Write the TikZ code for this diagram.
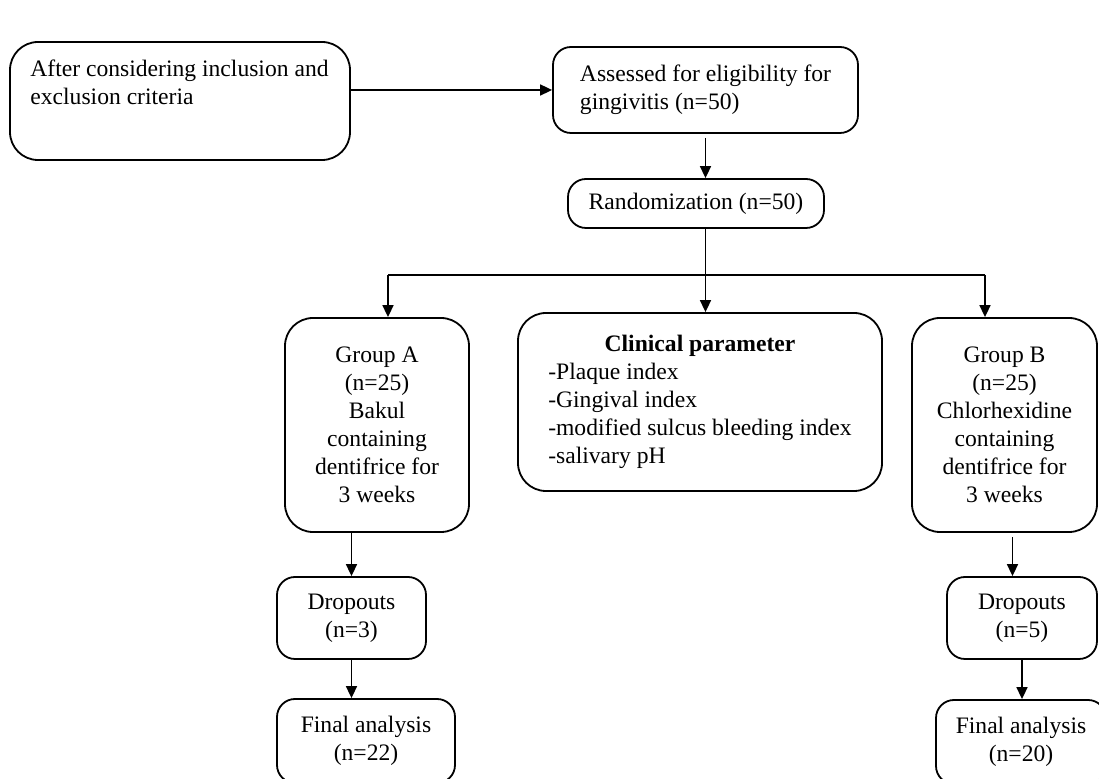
\documentclass[tikz,border=0pt]{standalone}
\usepackage{fontspec}
\setmainfont{Liberation Serif}
\usetikzlibrary{arrows.meta,positioning,calc}

\begin{document}
\begin{tikzpicture}[x=0.5pt,y=-0.5pt,
 font=\fontsize{11.8}{14}\selectfont,
 n/.style={draw,line width=0.9pt,rounded corners=9pt,align=center,inner sep=0pt},
 big/.style={n,rounded corners=14pt},
 t/.style={inner sep=0pt,align=left},
 a/.style={line width=0.85pt,-{Triangle[length=6pt,width=5.5pt]}}
]
\clip (0,0) rectangle (1099,779);
% top row
\node[big,minimum width=170pt,minimum height=59pt] (crit) at (180,101) {};
\node[t,anchor=north west] (crittxt) at (30,59) {After considering inclusion and\\exclusion criteria};
\node[n,align=left,minimum width=152.5pt,minimum height=43pt] (assess) at (705.5,90) {Assessed for eligibility for\\gingivitis (n=50)};
\node[n,minimum width=128pt,minimum height=24.5pt] (rand) at (696,203.5) {Randomization (n=50)};
% middle row
\node[big,minimum width=92pt,minimum height=107pt] (grpA) at (377,425) {Group A\\(n=25)\\Bakul\\containing\\dentifrice for\\3 weeks};
\node[big,minimum width=182pt,minimum height=89pt] (clin) at (700,402)
 {\begin{tabular}{@{}l@{}}\multicolumn{1}{@{}c@{}}{\textbf{Clinical parameter}}\\-Plaque index\\-Gingival index\\-modified sulcus bleeding index\\-salivary pH\end{tabular}};
\node[big,minimum width=92.5pt,minimum height=107pt] (grpB) at (1004.5,425) {Group B\\(n=25)\\Chlorhexidine\\containing\\dentifrice for\\3 weeks};
% bottom rows
\node[n,minimum width=74.5pt,minimum height=41pt] (dropA) at (351.5,618) {Dropouts\\(n=3)};
\node[n,minimum width=89pt,minimum height=42pt] (finA) at (366,741) {Final analysis\\(n=22)};
\node[n,minimum width=75pt,minimum height=41pt] (dropB) at (1022,618) {Dropouts\\(n=5)};
\node[n,minimum width=85pt,minimum height=42pt] (finB) at (1021,742) {Final analysis\\(n=20)};
\coordinate (brL) at (388,275);
\coordinate (brR) at (985,275);
% connectors
\draw[a] (crit.east |- assess.west) -- (assess.west);
\draw[a] ([yshift=-2pt]assess.south) -- (assess.south |- rand.north);
\draw[a] (assess.south |- rand.south) -- (assess.south |- clin.north);
\draw[line width=0.85pt] (brL) -- (brR);
\draw[a] (brL) -- (brL |- grpA.north);
\draw[a] (brR) -- (brR |- grpB.north);
\draw[a] (dropA.north |- grpA.south) -- (dropA.north);
\draw[a] (dropA.south) -- (dropA.south |- finA.north);
\draw[a] ([xshift=4pt,yshift=-2pt]grpB.south) -- ([xshift=4pt]grpB.south |- dropB.north);
\draw[a] (dropB.south) -- (dropB.south |- finB.north);
\end{tikzpicture}
\end{document}
